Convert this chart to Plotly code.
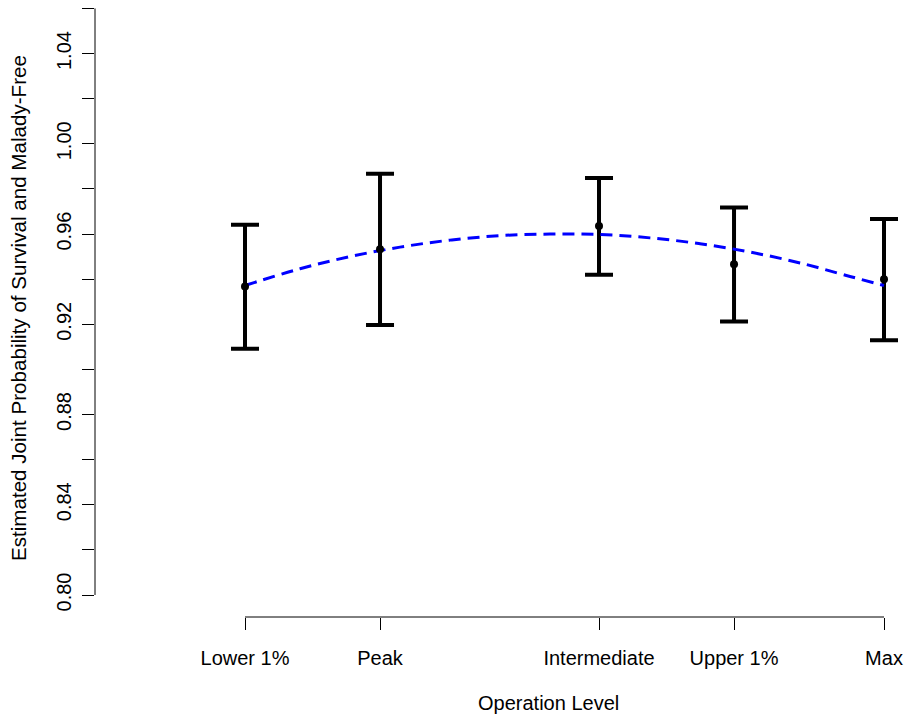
import plotly.graph_objects as go

# ---- data ----
categories = ["Lower 1%", "Peak", "Intermediate", "Upper 1%", "Max"]
x_pos = [0.0, 0.2113, 0.5540, 0.7653, 1.0]          # relative operation level positions
estimate = [0.9367, 0.9533, 0.9636, 0.9466, 0.9400]
upper = [0.9641, 0.9867, 0.9848, 0.9718, 0.9667]
lower = [0.9091, 0.9197, 0.9420, 0.9212, 0.9129]

curve_x = [0.0, 0.0861, 0.1643, 0.2426, 0.3208, 0.3991, 0.4773, 0.5556,
           0.6338, 0.7121, 0.7903, 0.8685, 0.9468, 1.0]
curve_y = [0.9372, 0.9446, 0.9500, 0.9542, 0.9573, 0.9593, 0.9600, 0.9598,
           0.9583, 0.9557, 0.9520, 0.9472, 0.9412, 0.9372]

y_ticks = [0.80, 0.82, 0.84, 0.86, 0.88, 0.90, 0.92, 0.94, 0.96, 0.98, 1.00, 1.02, 1.04, 1.06]
y_labels = ["0.80", "", "0.84", "", "0.88", "", "0.92", "", "0.96", "", "1.00", "", "1.04", ""]

FONT = "Liberation Sans, Arial, Helvetica, sans-serif"
FS = 20
FS_TITLE = 20.6

err_plus = [u - e for u, e in zip(upper, estimate)]
err_minus = [e - l for e, l in zip(estimate, lower)]

fig = go.Figure()
# error bars
fig.add_trace(go.Scatter(
    x=x_pos, y=estimate, mode="markers",
    marker=dict(size=1, color="rgba(0,0,0,0)"),
    error_y=dict(type="data", symmetric=False, array=err_plus, arrayminus=err_minus,
                 color="black", thickness=4, width=14),
    hoverinfo="skip", showlegend=False))
# fitted dashed curve
fig.add_trace(go.Scatter(
    x=curve_x, y=curve_y, mode="lines",
    line=dict(color="#0000FF", width=3, dash="12px,7px", shape="spline"),
    showlegend=False))
# point estimates
fig.add_trace(go.Scatter(
    x=x_pos, y=estimate, mode="markers",
    marker=dict(size=8, color="black"), showlegend=False))

# R-style axis lines spanning only first to last tick
fig.add_shape(type="line", xref="paper", yref="y", x0=0, x1=0, y0=y_ticks[0], y1=y_ticks[-1],
              line=dict(color="black", width=1))
fig.add_shape(type="line", xref="x", yref="paper", x0=x_pos[0], x1=x_pos[-1], y0=0, y1=0,
              line=dict(color="black", width=1))

W, H = 908, 717
ML, MB = 95, 100
plot_w = W - ML
plot_h = H - MB

fig.add_annotation(text="Estimated Joint Probability of Survival and Malady-Free",
                   xref="paper", yref="paper", x=(18 - ML) / plot_w, y=(plot_h - 308) / plot_h,
                   xanchor="center", yanchor="middle", textangle=-90, showarrow=False,
                   font=dict(family=FONT, size=FS_TITLE, color="black"))
fig.add_annotation(text="Operation Level",
                   xref="paper", yref="paper", x=(548.5 - ML) / plot_w, y=(plot_h - 703) / plot_h,
                   xanchor="center", yanchor="middle", showarrow=False,
                   font=dict(family=FONT, size=FS, color="black"))

fig.update_layout(
    width=W, height=H,
    margin=dict(l=ML, r=0, t=0, b=MB, pad=0),
    paper_bgcolor="white", plot_bgcolor="white",
    font=dict(family=FONT, size=FS, color="black"),
    xaxis=dict(range=[-0.23474, 1.03756], tickmode="array", tickvals=x_pos, ticktext=categories,
               ticks="outside", ticklen=12, tickwidth=1, tickcolor="black",
               ticklabelstandoff=11,
               showgrid=False, zeroline=False, showline=False,
               tickfont=dict(family=FONT, size=FS, color="black")),
    yaxis=dict(range=[0.79025, 1.06374], tickmode="array", tickvals=y_ticks, ticktext=y_labels,
               ticks="outside", ticklen=12, tickwidth=1, tickcolor="black", tickangle=-90,
               ticklabelstandoff=3,
               showgrid=False, zeroline=False, showline=False,
               tickfont=dict(family=FONT, size=FS, color="black")),
)

fig.write_html("out.html")
